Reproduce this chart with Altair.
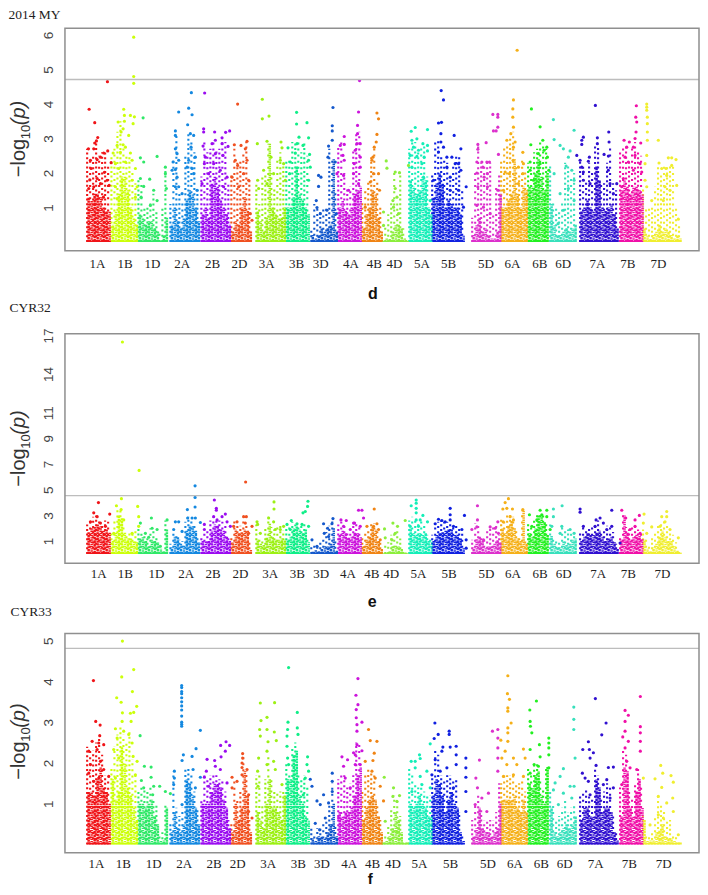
import altair as alt
import pandas as pd

CHROMS = ["1A","1B","1D","2A","2B","2D","3A","3B","3D","4A","4B","4D","5A","5B","5D","6A","6B","6D","7A","7B","7D"]
COLORS = ["#f01418","#ccff0a","#30e868","#1488e0","#9a0cf0","#f05020","#9cf014","#10ee88","#1458cc","#cc14dc","#f08414",
          "#8cee3c","#14eeb8","#1020e0","#dc30cc","#f5b018","#22f020","#38e0bc","#3010d0","#f010a8","#f0ee30"]
# genome position at which the density columns of each chromosome start (3 units between columns)
STARTS = [86.7,111,138,170,201,231,256,286,311,338,362,382,409,432,472,501,528,550,580,620,643]

# ---------- 2014 MY ----------
D_TICKS = [1,2,3,4,5,6]
D_THRESH = 4.71
D_LABEL_POS = [97,124.7,152,181.7,212.3,239,266.3,296.3,320.3,350.7,374,394.3,421.7,448.3,485.7,512.3,539.7,563,597.3,627.7,658.3]
D_BODY = [
 [1.3,1.2,1.4,1.4,1.3,1.0,0.9,0.9],[0.5,0.9,1.4,1.9,1.9,1.5,1.0,0.7,0.5],[0.8,0.7,0.5,0.6,0.6,0.4,0.3,0.05,0.2,0.7],
 [0.5,1.0,0.6,0.4,0.7,1.2,1.5,1.4,1.0,0.6],[0.8,1.0,0.7,1.7,1.9,1.6,1.2,1.0,0.8,0.5],[0.3,0.6,0.5,1.0,1.3,0.9,0.3],
 [0.9,0.6,0.3,0.7,2.85,1.0,0.8,0.7,0.7,1.0],[1.0,1.0,1.3,2.2,1.4,1.2,1.0,0.8],[0.2,0.1,0.2,0.4,0.3,0.4,0.5,2.4,0.3],
 [1.0,1.2,0.9,0.8,1.0,1.4,1.5,1.6],[0.4,0.8,1.0,1.5,1.4,0.7,0.3],[0.03,0.1,0.1,0.3,0.5,0.5,0.4,0.1,0.03],
 [1.8,1.6,1.4,1.5,1.9,1.8,1.0,0.8],[1.3,1.7,2.0,1.7,1.0,1.2,1.1,1.0,1.0,0.8,0.2],[0.2,0.5,0.7,0.3,0.4,0.2,0.1,0.1,0.3,1.4],
 [1.0,1.0,1.2,1.4,2.4,1.4,1.0,1.6,1.5],[1.6,1.6,2.0,2.4,1.9,1.5,2.0],[1.1,0.5,0.2,0.2,0.3,0.4,0.3,0.4,0.5],
 [0.9,1.0,1.2,1.0,0.9,2.2,1.8,1.0,0.9,1.0,1.1,0.8,0.4],[1.5,1.8,1.6,1.4,1.6,1.6,1.5,1.4],[0.4,0.2,0.1,0.2,0.3,0.5,0.3,0.4,0.3,0.2,0.1,0.2,0.1]]
D_UPPER = [
 [2.7,2.4,2.5,2.9,2.5,2.6,2.6,2.3],[2.5,2.7,3.2,3.5,2.8,2.5,2.5,2.1,1.7],[1.8,1.7,1.0,1.0,1.2,1.4,0.9,0.3,1.0,2.1],
 [1.1,2.4,3.1,1.4,1.2,2.5,3.2,2.9,2.6,1.6],[1.9,3.0,2.6,2.7,2.9,2.7,2.7,2.9,2.9,1.7],[2.0,2.7,2.3,2.4,2.6,2.9,1.8],
 [1.7,1.1,1.9,2.0,2.85,2.0,1.6,2.4,2.6,2.2],[2.4,2.4,2.9,2.9,2.9,2.6,2.9,2.5],[0.4,1.1,1.0,0.9,1.0,1.0,2.7,2.4,1.5],
 [2.8,3.0,2.0,1.6,1.6,2.7,3.2,3.2],[1.2,1.5,1.8,2.5,2.7,1.8,1.0],[0.1,0.5,0.8,1.2,2.0,1.2,2.0,0.4,0.1],
 [2.7,3.0,2.9,2.6,2.8,2.8,1.9,1.0],[2.0,2.9,3.0,2.5,2.4,2.3,1.9,2.2,2.5,2.5,1.5],[0.7,2.0,2.8,2.3,2.3,2.3,2.3,0.8,1.6,2.0],
 [2.4,2.8,2.8,3.0,3.2,2.2,2.0,2.4,2.1],[2.3,2.3,2.6,2.7,2.9,2.8,2.7],[2.2,1.2,1.0,0.9,1.2,2.3,2.2,1.9,2.0],
 [2.4,2.3,1.8,2.3,2.0,2.8,2.8,1.7,1.7,2.3,2.8,1.7,1.5],[2.6,2.8,2.8,2.4,2.8,2.9,2.6,2.5],[1.6,1.0,1.0,1.0,1.6,2.2,2.0,2.3,2.2,2.2,2.3,1.0,0.5]]
D_POINTS = {
"1A":[(88.7,3.85),(94.3,3.46),(107,4.65),(97.3,3.03),(96,2.93),(88,2.7),(93.3,2.7),(94.3,2.87),(90,2.37),(96.7,2.39),(100,2.46),(107.3,2.64),(103.3,2.58),(110.7,2.3),(90.7,2.13),(104,2.02),(89.3,1.8),(96.7,1.84),(106.7,1.79),(100,1.69),(108.7,1.64),(88.3,1.55),(93.3,1.6),(103,1.3)],
"1B":[(133.3,5.94),(133.3,4.8),(133.3,4.6),(123.3,3.85),(117.7,3.48),(124,3.67),(124,3.5),(130,3.67),(134,3.63),(132.7,3.43),(122.7,3.28),(120.7,3.19),(128.3,3.09),(116.7,2.8),(122.7,2.82),(125,2.75),(112.7,2.58),(120,2.6),(130,2.58),(115,2.27),(118.3,2.13),(125,2.32),(131.7,2.37),(135,2.13),(131.7,1.79),(136.7,1.6),(115,1.6),(116.7,1.26),(135,1.3)],
"1D":[(142.7,3.6),(140,2.44),(143.3,2.32),(156.7,2.48),(140,1.84),(149.3,1.82),(143.3,1.61),(153.3,1.5),(165,2.17),(165,1.98),(166,1.55),(156.7,1.2),(140.7,1.3),(150,1.06)],
"2A":[(191,4.33),(178.3,3.77),(188.3,3.88),(191.7,3.69),(175,3.22),(175,3.09),(187.3,3.4),(190,3.14),(193.3,3.09),(190.7,2.75),(195,2.46),(176.7,2.56),(172.7,2.32),(178.3,2.37),(171.7,2.08),(176.7,1.88),(188.3,2.37),(191.7,2.13),(186.7,2.17),(193.3,1.98),(178.3,1.6),(196.7,1.5),(181.7,1.4),(175,2.7),(175,2.1),(175,1.6)],
"2B":[(204.3,4.32),(203.3,3.28),(203.3,3.19),(214.3,3.19),(225.3,3.18),(229.3,3.22),(221.7,3.02),(215,2.95),(211.7,2.85),(202.7,2.78),(205,2.46),(204,2.27),(221.7,2.85),(227.7,2.77),(215,2.56),(222.7,2.51),(213.3,2.27),(220,2.08),(208.3,1.98),(226.7,1.88),(201.7,1.69),(223.3,1.6)],
"2D":[(237.3,4.0),(234,2.82),(240.7,2.8),(246.7,2.92),(245,2.7),(235,2.37),(246.7,2.37),(237.3,2.22),(231.7,1.88),(243.3,1.98),(248.3,1.79),(238.3,1.6),(250,0.82),(251.7,0.63)],
"3A":[(262,4.14),(262,3.57),(268.7,3.65),(257,2.85),(266.7,2.92),(263.3,2.08),(273.3,1.98),(280.7,2.9),(281.7,2.73),(280,2.37),(283.3,2.27),(285,1.79),(257.3,1.79),(258.3,1.55),(270.7,2.46),(266.7,1.69)],
"3B":[(296.3,3.76),(296.3,3.42),(306.7,3.46),(298.7,3.04),(308.3,3.02),(296.7,2.85),(302.7,2.8),(309.3,2.54),(295,2.58),(308.3,2.37),(290,2.32),(310,2.17),(289.3,1.98),(308.3,1.79),(287.7,2.73)],
"3D":[(332.7,3.9),(332,3.37),(332,3.22),(332,2.95),(328.3,2.78),(318.3,1.93),(320.7,1.88),(318.3,1.61),(327.7,2.46),(316,1.2),(326.7,0.92),(335,2.32),(336,0.82),(316.7,1.0),(320,0.82)],
"4A":[(359.3,4.68),(344,3.06),(358.3,3.77),(357.3,3.38),(357.3,3.14),(340,2.8),(344,2.83),(355,2.66),(342.7,2.51),(344,2.37),(336.7,1.98),(343.3,1.93),(354,2.27),(348.3,1.5),(356.7,2.85),(360,2.85),(360,2.46),(353.3,1.98),(360,2.17),(358.3,1.69)],
"4B":[(376.7,3.74),(378.3,3.57),(376.7,3.12),(376,2.9),(374,2.75),(371.7,2.37),(373.3,1.98),(370,1.74),(378.3,1.98),(379.3,1.5),(365,1.01),(372.7,2.46)],
"4D":[(386,2.35),(386.7,2.14),(395,2.03),(399.3,2.01),(395,1.55),(393.3,1.01),(398.3,0.82),(383.3,0.87),(383.3,0.48),(408.3,2.22),(396.7,1.3),(392.7,1.2)],
"5A":[(415,3.32),(411,3.21),(427.3,3.26),(411.7,2.95),(416.7,2.99),(422.7,2.85),(427.3,2.8),(413.3,2.75),(418.3,2.66),(427.3,2.64),(410,2.51),(416.7,2.48),(421.7,2.27),(411.7,2.17),(424,2.46),(423.3,1.88),(430,1.2)],
"5B":[(441,4.39),(443.3,4.12),(438.3,3.45),(441.3,3.47),(454,3.09),(440.7,3.14),(440.7,2.9),(460.7,2.7),(438.3,2.61),(443.3,2.75),(446.7,2.46),(451.7,2.46),(458.3,2.27),(446.7,2.17),(460.7,2.08),(450,1.88),(433.3,1.79),(466,1.6),(458.3,1.5),(450,1.5),(463.3,1.01),(455,2.27)],
"5D":[(492.7,3.7),(497.7,3.7),(497.7,3.62),(493.3,3.22),(497.7,3.33),(496,3.22),(477.7,2.83),(486,2.88),(477.7,2.69),(498.3,2.54),(476.7,2.32),(481.7,2.32),(489.3,2.32),(486.7,2.32),(476.7,2.0),(482.7,2.17),(487.3,1.98),(484,1.88),(477.7,1.6),(487.3,1.6),(497.7,1.5),(476.7,1.06),(483.3,1.01),(490,0.82)],
"6A":[(517,5.56),(513.3,4.12),(512.7,3.86),(512.7,3.62),(513.3,3.33),(510.7,3.14),(506.7,2.95),(515,2.9),(513.3,2.75),(522.7,2.6),(505,2.03),(522.7,1.98),(518.3,2.17),(509.3,1.98),(523.3,2.27),(503.3,1.5),(518.3,1.69),(513,2.37)],
"6B":[(531.3,3.86),(540,3.34),(542.7,2.95),(530.7,2.82),(546.7,2.75),(544,2.66),(538.3,2.56),(530,2.32),(547.3,2.46),(548.7,2.08),(530,2.08),(540,2.27),(533.3,1.79)],
"6D":[(553.3,3.55),(574,3.24),(554,2.97),(560,2.8),(563.3,2.7),(570,2.64),(568.3,2.46),(566,2.2),(571.7,2.08),(554,1.98),(574,1.79),(568.3,1.55),(560,1.4),(574,1.2),(563.3,0.92),(558,0.53)],
"7A":[(595.3,3.96),(583.3,3.04),(581.7,2.95),(581.7,2.83),(608.7,3.19),(597.3,3.02),(609,2.9),(597.3,2.85),(576.7,2.51),(580,2.37),(589.3,2.46),(588.3,2.34),(604,2.54),(608.3,2.49),(581.7,2.17),(583.3,2.03),(608.3,2.08),(590,1.69),(583.3,1.79),(610,1.69),(616.7,1.69),(613.3,1.4)],
"7B":[(636.3,3.95),(635.7,3.62),(636.7,3.48),(636,3.19),(635,3.0),(624,2.95),(629.3,2.9),(640.7,2.87),(626.7,2.75),(633.3,2.75),(625,2.46),(635,2.51),(628.3,2.32),(640,2.27),(633.3,2.08),(623.3,1.84),(641.7,2.03),(621.7,1.6)],
"7D":[(646.7,4.0),(646.7,3.91),(646.7,3.82),(647.3,3.62),(647.3,3.43),(658.3,2.95),(647.3,3.19),(647.3,2.95),(646.7,2.51),(645,2.27),(668.3,2.44),(671.7,2.44),(676,2.39),(659,2.29),(671.7,2.22),(661.7,2.13),(666,2.13),(666.7,1.93),(676.7,1.64),(665,1.6),(670,1.5),(651.7,1.2),(663.3,1.2),(678.3,0.66),(646.7,1.6),(645,1.79)],
}

# ---------- CYR32 ----------
E_TICKS = [1,3,5,7,9,11,14,17]
E_THRESH = 4.54
E_LABEL_POS = [98.3,125,156,185.7,212.7,240,270,297,321,347.7,371.7,391,418.3,449,486.3,512.7,540,563.7,598,628.3,662.3]
E_BODY = [
 [1.7,2.0,2.1,2.3,2.2,1.8,1.9,1.7],[1.0,1.7,3.0,2.8,1.7,1.2,1.2,1.0,0.9],[1.2,1.3,1.0,0.6,1.1,1.0,0.9,0.4,0.2,1.9],
 [0.5,1.4,1.3,0.8,0.7,1.8,2.2,2.2,1.8,0.9],[1.0,1.0,1.0,1.8,2.3,2.2,1.9,1.8,1.4,1.0],[0.9,1.9,1.6,1.7,1.9,1.8,0.3],
 [1.1,0.8,0.7,1.3,2.4,1.3,1.1,1.1,1.2,1.1],[1.1,1.4,2.0,2.2,1.9,1.6,1.9,0.9],[0.2,0.3,0.2,0.4,0.6,0.6,0.8,2.0,0.3],
 [1.5,1.8,1.6,1.3,1.4,1.7,1.6,1.3],[0.6,1.1,1.4,2.1,1.9,1.0,0.4],[0.05,0.1,0.2,0.6,0.7,0.6,0.4,0.1,0.05],
 [2.0,1.6,1.5,1.6,1.5,1.6,1.0,0.9],[1.0,1.5,1.6,1.7,1.8,1.9,1.9,1.5,1.5,1.2,0.5],[0.5,1.2,1.4,1.0,0.5,0.6,0.6,0.8,1.1,0.9],
 [2.0,1.6,2.2,2.6,2.0,1.2,1.0,3.4,0.8],[1.6,1.4,2.0,3.0,3.0,2.5,1.5],[1.4,0.8,0.5,0.5,1.0,0.7,0.8,1.1,1.2],
 [1.0,1.4,1.6,1.5,1.5,1.7,1.8,1.4,1.0,1.2,1.4,0.9,0.4],[1.1,3.0,1.7,1.1,1.3,1.5,1.4,1.2],[1.1,0.4,0.2,0.5,0.8,1.4,1.8,1.4,1.0,1.0,0.6,0.3,0.1]]
E_UPPER = [
 [2.3,2.7,2.9,3.0,2.6,2.3,2.6,2.5],[1.6,2.6,3.6,3.4,2.1,1.6,1.6,1.6,1.9],[2.2,1.7,1.4,1.4,2.0,1.9,1.4,0.6,0.4,2.6],
 [0.8,1.9,1.5,1.1,1.0,2.5,2.9,2.7,2.3,1.4],[1.4,1.6,2.0,2.6,2.9,2.7,2.6,2.5,2.2,1.3],[1.4,2.6,2.3,2.2,2.6,2.3,1.0],
 [2.3,1.3,1.2,2.0,2.9,2.1,1.9,2.2,2.2,1.8],[2.0,2.3,2.5,2.3,2.2,2.3,2.4,1.2],[0.6,0.7,0.7,0.9,1.4,1.7,2.2,2.6,1.0],
 [2.3,2.5,2.2,1.7,1.8,2.4,2.5,2.2],[1.4,1.9,2.0,2.4,2.4,1.9,0.9],[0.1,0.7,0.9,1.5,1.9,2.0,1.2,0.3,0.1],
 [2.6,2.9,2.6,2.5,2.6,2.3,1.5,1.2],[1.5,2.3,2.5,2.6,2.5,2.5,2.4,2.3,2.2,2.0,1.9],[1.1,2.4,2.2,1.4,1.3,2.0,2.1,2.1,2.2,1.5],
 [2.8,2.8,3.0,3.2,2.9,1.8,1.4,3.4,1.2],[2.4,2.2,2.8,3.2,3.2,3.0,2.4],[2.3,1.4,1.1,1.0,2.1,1.8,1.9,1.9,1.7],
 [1.6,2.1,2.0,2.0,2.1,2.4,2.6,1.9,2.0,2.2,2.2,1.7,0.8],[1.4,3.2,2.1,1.9,2.1,2.2,1.9,1.8],[1.9,1.2,0.6,1.3,1.6,2.2,2.5,2.6,2.2,1.6,1.5,0.9,0.3]]
E_POINTS = {
"1A":[(98,4.0),(93.3,3.2),(96.7,2.9),(109.3,3.1),(90,2.5),(100,2.4),(105,2.15)],
"1B":[(122,16.5),(138.7,6.5),(121,4.3),(116,3.75),(137.3,3.7),(120.7,3.45),(138.3,2.9),(123.3,2.65),(138.3,2.15),(113.3,1.6),(131.7,1.6)],
"1D":[(151,2.8),(140,2.4),(151.7,2.0),(156.7,1.9),(145,1.6),(166.7,2.65),(148.3,1.3),(160,0.6)],
"2A":[(194.7,5.3),(194.7,4.4),(194.7,3.65),(187,3.45),(175,2.5),(178.3,2.5),(187.3,2.8),(191.7,2.8),(195,2.8),(173.3,1.9),(200,2.45),(181.7,1.75)],
"2B":[(214,4.2),(216,3.55),(216,3.4),(225,3.1),(221.7,2.9),(213.3,2.9),(204,2.3),(204,1.9),(226.7,2.5),(230,2.15),(216.7,2.65)],
"2D":[(245.3,5.6),(243.3,2.9),(246,2.9),(236.7,2.5),(245,2.4),(251.7,2.15),(233.3,2.15),(248.3,1.6)],
"3A":[(273.7,4.05),(273.7,3.5),(256.7,2.5),(257.3,2.3),(268.3,2.8),(273.3,2.5),(283.3,2.15),(280,1.9),(260,1.6),(275,1.9)],
"3B":[(307.7,4.1),(307.3,3.7),(305,3.3),(302.7,3.2),(291,2.6),(296.7,2.35),(286.7,2.3),(301.7,2.3),(308.3,2.15),(290,1.9)],
"3D":[(332.7,2.75),(323.3,2.35),(331.7,2.35),(327.3,2.0),(324,1.6),(311.7,1.1),(316.7,0.6),(328.3,1.35)],
"4A":[(340.7,2.65),(346,2.6),(354.3,2.4),(343.3,2.15),(358.3,3.4),(350,1.9),(361.7,3.4),(363.3,2.8),(353.3,2.4),(360,2.15)],
"4B":[(374,3.5),(373.3,2.15),(378.3,1.9),(366.7,2.15),(376.7,2.35),(380,1.1)],
"4D":[(392.7,2.4),(397.3,2.15),(384.3,1.95),(395,1.6),(391.7,1.1),(405,2.6),(385,1.25)],
"5A":[(416,4.2),(416,3.95),(411,3.75),(416,3.55),(416,3.2),(422.7,3.0),(416,2.65),(420,2.65),(427.3,2.5),(410,2.15),(418.3,2.15)],
"5B":[(450,3.55),(450,3.05),(464.3,3.0),(438.3,2.7),(441.7,2.6),(445,2.5),(450,2.65),(435,2.35),(453.3,2.15),(461.7,1.9),(466,1.1),(466,0.45)],
"5D":[(477.3,3.75),(477.3,2.65),(497.7,2.5),(476.7,2.1),(490,2.1),(495,2.0),(471.7,1.9),(498.3,1.6),(483.3,1.1)],
"6A":[(508.3,4.3),(505,4.0),(502.7,3.5),(506.7,3.55),(512.3,3.5),(510,2.9),(522.7,3.45),(513.3,2.65),(503,2.5)],
"6B":[(540,3.4),(546.7,3.4),(529.3,3.05),(546.7,2.9),(541.7,3.05),(536.7,2.65),(550,1.9),(531.7,2.15)],
"6D":[(562,3.75),(553.3,3.5),(553.3,2.9),(551.7,2.15),(561.7,2.15),(570,1.9),(574,1.6),(560,1.6)],
"7A":[(580,3.5),(580,3.25),(611.7,3.4),(600,2.8),(596,2.65),(603.3,2.4),(583.3,2.15),(611.7,2.15),(595,2.15),(606.7,1.9),(620,0.85)],
"7B":[(621.7,3.4),(639.3,3.0),(635,2.65),(625.7,2.8),(635,2.15),(630,1.9),(640,1.6)],
"7D":[(644,3.1),(643.3,2.4),(666.7,3.3),(661.7,2.9),(666.7,2.9),(660,2.15),(651.7,2.1),(646.7,1.6),(678.3,1.25),(670,1.9),(665,2.5)],
}

# ---------- CYR33 ----------
F_TICKS = [1,2,3,4,5]
F_THRESH = 4.81
F_LABEL_POS = [96,123,153.3,183.7,213.7,237.3,268,298,321.7,349,372.3,392.7,419.3,450.3,487.7,514.7,541.3,564.7,595.7,629.3,663.7]
F_BODY = [
 [1.3,1.3,1.2,1.6,1.9,1.4,1.3,1.0],[1.6,1.1,1.3,2.4,2.0,1.4,1.2,0.9,0.6],[1.0,1.0,0.9,1.0,1.1,0.7,0.5,0.1,0.1,0.9],
 [0.3,0.8,0.4,0.3,0.5,1.6,1.5,1.2,0.9,0.5],[1.0,1.0,1.0,1.3,1.5,1.5,1.4,1.1,0.9,0.4],[0.3,1.0,0.6,0.9,1.8,1.2,0.3],
 [0.8,0.6,0.4,1.0,1.6,0.9,0.9,0.8,0.6,1.2],[1.6,1.6,2.2,2.3,1.2,1.0,0.7,0.6],[0.15,0.1,0.2,0.2,0.15,0.3,0.5,1.0,0.2],
 [0.8,0.7,0.8,0.8,0.9,1.2,1.7,1.9],[0.6,0.9,1.1,1.2,1.1,0.7,0.3],[0.05,0.1,0.2,0.4,0.8,0.6,0.3,0.05,0.05],
 [1.0,0.9,1.0,1.2,1.0,0.9,0.7,0.7],[1.2,1.6,1.5,1.2,0.8,1.1,1.3,1.0,0.9,0.3,0.1],[0.2,0.4,0.9,0.4,0.3,0.3,0.2,0.3,0.4,1.0],
 [1.1,1.1,1.1,1.1,1.2,0.9,0.8,1.1,0.8],[1.5,1.4,1.7,1.8,1.2,1.0,1.9],[0.9,0.3,0.2,0.3,0.4,0.5,0.4,0.5,0.7],
 [0.6,0.9,0.9,0.7,0.7,1.6,1.4,0.8,0.9,0.9,0.8,0.3,0.1],[0.7,1.9,1.8,0.9,0.7,1.3,1.6,0.9],[0.6,0.1,0.1,0.1,0.3,0.35,0.5,0.2,0.15,0.15,0.1,0.05,0.05]]
F_UPPER = [
 [2.4,2.3,2.3,2.5,2.6,2.2,1.7,1.6],[1.9,2.4,2.7,2.9,2.7,2.5,2.8,2.1,1.7],[1.3,1.4,1.4,1.3,1.4,1.1,1.0,0.2,0.3,1.0],
 [0.5,1.8,0.9,0.7,0.9,1.9,1.9,1.7,1.3,0.9],[1.1,1.7,1.6,1.7,1.8,1.7,1.6,1.6,1.3,0.6],[0.5,1.6,1.1,1.3,2.2,1.8,0.6],
 [1.7,1.7,1.0,1.6,2.2,1.6,1.3,1.3,1.3,1.3],[2.0,1.8,2.4,2.5,1.7,1.6,1.7,1.4],[0.4,0.3,0.4,0.4,0.5,0.6,1.0,1.5,0.5],
 [1.6,1.8,1.7,1.4,1.5,1.7,2.5,2.5],[1.3,1.7,1.9,1.8,1.7,1.0,0.6],[0.1,0.3,0.5,0.9,1.2,1.1,0.7,0.1,0.1],
 [1.9,1.7,1.5,1.4,1.5,1.3,1.2,1.2],[1.7,2.3,2.2,1.7,1.6,1.7,1.7,1.6,1.6,0.8,0.3],[0.6,1.0,1.2,0.9,0.6,0.6,0.6,0.6,0.8,1.5],
 [1.5,1.7,1.7,1.7,1.8,1.5,1.5,1.6,1.3],[1.9,1.8,2.0,2.0,1.6,1.4,1.9],[1.3,1.0,0.6,0.7,0.9,1.1,0.8,0.9,1.0],
 [1.2,1.3,1.4,1.2,1.1,1.9,1.7,1.1,1.3,1.5,1.4,0.7,0.3],[1.4,2.3,2.2,1.3,1.1,1.5,1.9,1.4],[0.7,0.2,0.2,0.3,0.7,1.2,1.0,0.8,0.6,0.6,0.3,0.2,0.1]]
F_POINTS = {
"1A":[(93,4.02),(95.3,3.02),(99.7,2.93),(99.3,2.67),(91.7,2.53),(98.3,2.49),(88.3,2.29),(96.7,2.33),(103.3,2.45),(90,1.96),(100,2.04),(88.3,1.75),(103.3,1.84),(98.3,1.63),(108.3,1.67),(93.3,1.55)],
"1B":[(122,4.99),(121.3,4.11),(133.3,4.29),(132,3.75),(116.3,3.6),(120.7,3.49),(136.3,3.39),(122,3.23),(130,3.22),(133.3,3.24),(115,2.84),(121.7,3.02),(130.7,3.02),(116.7,2.61),(128.3,2.7),(123.3,2.78),(113.3,2.33),(131.7,2.49),(118.3,2.12),(132.7,2.16),(136.7,2.04),(115,1.63),(135,1.71)],
"1D":[(139.7,2.67),(144,1.92),(150.7,1.9),(141,1.57),(150.7,1.65),(153.3,1.43),(159.3,1.43),(143.3,1.39),(152.3,1.22),(165,1.3),(170,1.25)],
"2A":[(181.3,3.9),(181.3,3.85),(181.3,3.75),(181.3,3.7),(181.3,3.6),(181.3,3.5),(181.3,3.4),(181.3,3.3),(181.3,3.15),(181.3,3.0),(181.3,2.95),(181.3,2.9),(200,2.8),(195.7,2.35),(183,2.2),(191.7,2.16),(181.7,2.06),(174,1.8),(174,1.63),(192.7,1.84),(173.3,1.47),(195,1.39),(200,1.65),(181.7,0.98)],
"2B":[(225.7,2.52),(220.3,2.43),(229.3,2.43),(225,2.29),(206.7,2.09),(220.7,2.15),(214.3,2.06),(215,1.92),(206,1.8),(220,1.84),(204,1.65),(208.3,1.43),(226.7,1.51)],
"2D":[(242.3,2.23),(242.3,2.12),(241.7,2.0),(241.7,1.89),(246.7,1.84),(231.7,1.65),(241.7,1.71),(236.7,1.55),(231.7,1.39),(248.3,1.22),(251.7,0.65),(248.3,0.81)],
"3A":[(260,3.47),(274.3,3.48),(260.7,3.04),(266.7,3.12),(259.3,2.82),(260,2.66),(266.7,2.82),(274,2.76),(267.7,2.52),(276,2.55),(266.7,2.29),(258.3,2.12),(273.3,2.04),(275,1.84),(257.3,1.8),(266.7,1.96),(257.7,1.43),(281.7,1.47)],
"3B":[(288.3,4.34),(297,3.24),(287.7,3.0),(287.3,2.82),(297,2.86),(286.7,2.66),(297.7,2.7),(286.7,2.41),(287.3,2.12),(288.3,1.96),(307.3,2.15),(306.7,1.96),(308.3,1.8),(305,1.63),(303,1.22)],
"3D":[(310,1.6),(311.7,1.43),(332,1.75),(332,1.55),(332,1.3),(323.3,1.22),(316.7,1.07),(320,0.98),(328.3,1.02),(315,0.52),(319.3,0.36),(325,0.65)],
"4A":[(357.7,4.07),(355.7,3.66),(357.7,3.43),(356,3.31),(356,3.11),(356.7,2.94),(356.7,2.78),(356.7,2.45),(353.3,2.25),(341.7,2.15),(347.3,2.08),(343.3,1.92),(355,1.96),(345,1.63),(350,1.39),(338.3,0.65),(361.7,3.0),(361.7,2.3),(360,1.96),(355,2.2)],
"4B":[(368.3,2.82),(370,2.55),(376.7,2.53),(374,2.24),(365,2.04),(372.7,2.06),(371.7,1.8),(375,1.63),(380,1.43),(383.3,1.07)],
"4D":[(384,1.65),(393.3,1.39),(399.3,1.2),(392.7,1.18),(396.7,1.06),(385,0.57),(396.7,0.32)],
"5A":[(419.3,2.2),(411,2.04),(415,2.04),(420,2.11),(415,1.88),(420,1.67),(430,2.47),(426.7,1.8),(411.7,1.3),(421.7,1.47),(430,1.39)],
"5B":[(434.7,2.98),(438,2.7),(434,2.6),(449,2.78),(449,2.7),(442.7,2.39),(450,2.39),(456,2.41),(456,2.2),(441.7,2.29),(465.7,2.12),(456,1.96),(435,2.08),(465.7,1.88),(465.7,1.65),(446.7,1.88),(440,1.8),(465.7,1.3),(431.7,1.71),(453.3,1.39),(465.7,0.81)],
"5D":[(497.7,2.82),(492.3,2.78),(497.7,2.61),(497.7,2.37),(497.7,2.12),(479.3,2.07),(497.7,1.8),(475.7,1.63),(477.3,1.39),(488.3,1.26),(481.7,1.14),(475,0.98),(486.7,0.81)],
"6A":[(507.7,4.14),(507.3,3.7),(509.3,3.56),(507.7,3.35),(507.7,3.27),(511,2.98),(507.7,2.86),(507.7,2.74),(507.7,2.53),(500.7,2.56),(523.3,2.34),(505,2.29),(501.7,2.12),(513.3,2.12),(525,2.12),(506.7,1.96),(516.7,1.96),(523.3,1.67),(503.3,1.67),(513.3,1.71)],
"6B":[(536.3,3.52),(529.7,3.3),(530,3.02),(530.3,2.9),(531.7,2.74),(548.7,2.61),(548.7,2.49),(539.3,2.45),(548.7,2.37),(530,2.33),(540,2.15),(548.7,2.2),(534,1.96),(530,1.75),(538.3,1.92),(548.7,1.88)],
"6D":[(573.7,3.37),(573.7,3.07),(573.7,2.82),(575,2.12),(563.3,1.86),(560,1.67),(555,1.51),(570,1.43),(574,1.43),(563.3,1.26),(553.3,1.34),(571.7,1.14),(558.3,0.98)],
"7A":[(595.3,3.58),(606,2.98),(601.7,2.69),(588.3,2.52),(582.7,2.33),(589.3,2.33),(593.3,2.25),(590,2.12),(596,1.94),(608.3,1.89),(613.3,1.9),(582.3,1.75),(585,1.63),(606.7,1.59),(588.3,1.55),(603.3,1.47),(613.3,1.39),(610,1.14),(590,1.22)],
"7B":[(640.3,3.63),(625,3.29),(628.3,3.17),(625,3.02),(640.3,2.89),(625,2.78),(640.3,2.74),(622.7,2.64),(628.3,2.53),(640.3,2.53),(625,2.37),(640.3,2.29),(626.7,2.04),(636.7,1.84),(630,1.88),(621.7,1.47)],
"7D":[(660.7,1.94),(662.7,1.75),(671,1.69),(655,1.61),(643.3,1.63),(673.3,1.53),(661.7,1.4),(658.3,1.18),(672.7,1.14),(666.7,1.02),(673.3,0.81),(658.3,0.73),(650,0.48),(678.3,0.24),(663.3,0.65)],
}

X_LEFT, X_RIGHT = 64.5, 700.0
WIDTH = X_RIGHT - X_LEFT
x_scale = alt.Scale(domain=[X_LEFT, X_RIGHT], range=[0, WIDTH], nice=False, zero=False)
color_scale = alt.Scale(domain=CHROMS, range=COLORS)
DASH_NAMES = ["0", "1", "2", "s0", "s1", "s2"]
DASHES = [[2.2, 0.6], [1.4, 0.8], [2.9, 0.7], [2.0, 2.6], [2.0, 4.1], [2.0, 3.2]]
dash_scale = alt.Scale(domain=DASH_NAMES, range=DASHES)


def panel(title, title_x, title_y, letter, letter_x, letter_y, letter_size, slot, frame_top, frame_bottom, domain_max, y_bottom, y_top,
          ticks, thresh, label_pos, label_y, body, upper, points, ylab_y):
    y_scale = alt.Scale(domain=[0, domain_max], range=[y_bottom, y_top], nice=False, zero=True)
    y_axis = alt.Axis(title=None, values=ticks, domain=False, ticks=False, tickSize=0, grid=False, labelAngle=270,
                      labelAlign="center", labelBaseline="middle", labelPadding=16.5, labelFont="Liberation Sans",
                      labelFontSize=13.5, labelColor="#444444", orient="left", labelOverlap=False)
    body_rows, upper_rows = [], []
    for c, s, hs, us in zip(CHROMS, STARTS, body, upper):
        for i, h in enumerate(hs):
            body_rows.append({"chrom": c, "pos": s + 1.5 + 3 * i, "h": h, "base": 0, "pat": str(i % 3)})
        for i, u in enumerate(us):
            upper_rows.append({"chrom": c, "pos": s + 3 * i, "h": u, "base": 0, "pat": "s" + str(i % 3)})
    point_rows = [{"chrom": c, "pos": p[0], "v": p[1]} for c, pts in points.items() for p in pts]
    X = alt.X("pos:Q", scale=x_scale, axis=None)
    color = alt.Color("chrom:N", scale=color_scale, legend=None)
    dash = alt.StrokeDash("pat:N", scale=dash_scale, legend=None)

    speckle = alt.Chart(pd.DataFrame(upper_rows)).mark_rule(strokeWidth=2.1).encode(
        x=X, y=alt.Y("base:Q", scale=y_scale, axis=y_axis), y2="h:Q", color=color, strokeDash=dash)
    rules = alt.Chart(pd.DataFrame(body_rows)).mark_rule(strokeWidth=2.5).encode(
        x=X, y=alt.Y("base:Q", scale=y_scale, axis=y_axis), y2="h:Q", color=color, strokeDash=dash)
    dots = alt.Chart(pd.DataFrame(point_rows)).mark_circle(size=10, opacity=1).encode(
        x=X, y=alt.Y("v:Q", scale=y_scale, axis=y_axis), color=color)
    thr = alt.Chart(pd.DataFrame({"t": [thresh]})).mark_rule(color="#bdbdbd", strokeWidth=1.4).encode(
        y=alt.Y("t:Q", scale=y_scale, axis=y_axis), x=alt.value(0), x2=alt.value(WIDTH - 1))
    frame = alt.Chart(pd.DataFrame({"a": [0]})).mark_rect(fill=None, stroke="#8f8f8f", strokeWidth=1.5).encode(
        x=alt.value(0), x2=alt.value(WIDTH - 1), y=alt.value(frame_top), y2=alt.value(frame_bottom))
    labels = alt.Chart(pd.DataFrame({"pos": label_pos, "name": CHROMS})).mark_text(
        font="Liberation Serif", fontSize=13, color="#222222", baseline="middle", align="center").encode(
        x=X, y=alt.value(label_y), text="name:N")

    def txt(s, x, y, **kw):
        return alt.Chart(pd.DataFrame({"s": [s]})).mark_text(**kw).encode(
            x=alt.value(x), y=alt.value(y), text="s:N")

    head = txt(title, title_x, title_y, font="Liberation Serif", fontSize=13.5, color="#222222", align="left", baseline="alphabetic")
    let = txt(letter, letter_x, letter_y, font="Liberation Sans", fontSize=letter_size, fontWeight="bold", color="#111111", align="center", baseline="alphabetic")
    common = dict(font="Liberation Sans", angle=270, align="left", baseline="alphabetic", color="#333333")
    y1 = txt("\u2212log", -39.5, ylab_y, fontSize=20, **common)
    y2 = txt("10", -35, ylab_y - 38, fontSize=13, **common)
    y3 = txt("(p)", -39.5, ylab_y - 52, fontSize=20, fontStyle="italic", **common)
    return alt.layer(speckle, rules, dots, thr, frame, labels, head, let, y1, y2, y3).properties(width=WIDTH, height=slot)


d = panel("2014 MY", -56.5, 11, "d", 308.2, 291, 16, 292, 20, 242.7, 6, 233.8, 26.8,
          D_TICKS, D_THRESH, D_LABEL_POS, 255.7, D_BODY, D_UPPER, D_POINTS, 169)
e = panel("CYR32", -55.5, 11.5, "e", 307.5, 307, 16, 308, 33.7, 263.3, 17, 254, 35.5,
          E_TICKS, E_THRESH, E_LABEL_POS, 274, E_BODY, E_UPPER, E_POINTS, 186.7)
f = panel("CYR33", -54.5, 8.5, "f", 305.5, 276.5, 15, 279, 25.7, 245, 5, 236.8, 32.8,
          F_TICKS, F_THRESH, F_LABEL_POS, 256, F_BODY, F_UPPER, F_POINTS, 172)

chart = alt.vconcat(d, e, f, spacing=0, bounds="flush").configure_view(stroke=None).properties(
    padding=0, background="white")
chart.save("out.html", embed_options={"renderer": "svg", "actions": False})
